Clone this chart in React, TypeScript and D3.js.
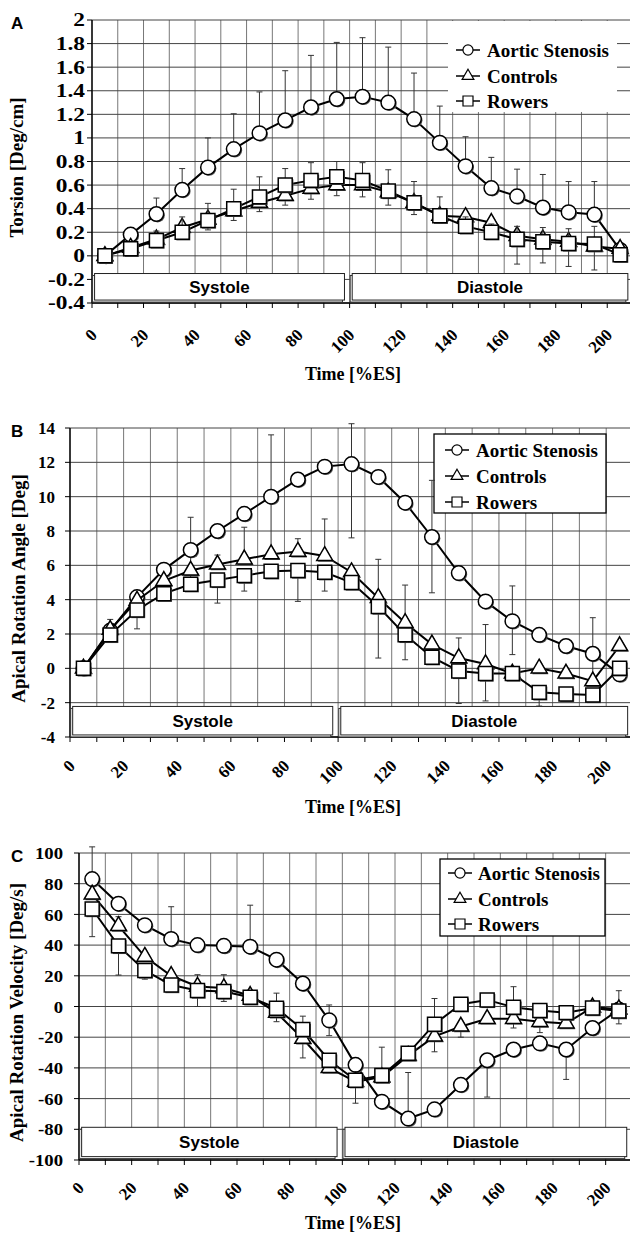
import React from "react";
import * as d3 from "d3";

// sample times (% of end-systole)
const timePoints = [5, 15, 25, 35, 45, 55, 65, 75, 85, 95, 105, 115, 125, 135, 145, 155, 165, 175, 185, 195, 205];
const groupNames = ["Aortic Stenosis", "Controls", "Rowers"];
const xTickValues = [0, 20, 40, 60, 80, 100, 120, 140, 160, 180, 200];
const phaseLabels = ["Systole", "Diastole"];
const phaseStart = [1, 101];
const phaseEnd = [98, 208];

// Panel A - torsion
const torsionTicks = [-0.4, -0.2, 0, 0.2, 0.4, 0.6, 0.8, 1, 1.2, 1.4, 1.6, 1.8, 2];
const torsionAS = [0, 0.18, 0.355, 0.56, 0.75, 0.905, 1.04, 1.15, 1.26, 1.33, 1.35, 1.3, 1.16, 0.96, 0.76, 0.575, 0.505, 0.41, 0.37, 0.35, 0.05];
const torsionASUp = [0, 0.06, 0.135, 0.18, 0.25, 0.3, 0.35, 0.42, 0.44, 0.48, 0.5, 0.47, 0.39, 0.31, 0.25, 0.26, 0.23, 0.28, 0.26, 0.28, 0];
const torsionControls = [0, 0.07, 0.14, 0.24, 0.31, 0.38, 0.45, 0.51, 0.57, 0.6, 0.6, 0.54, 0.45, 0.34, 0.33, 0.28, 0.17, 0.14, 0.12, 0.08, 0.06];
const torsionControlsDown = [0, 0, 0.02, 0.04, 0.09, 0.08, 0.075, 0.08, 0.09, 0.09, 0.1, 0.11, 0.1, 0.06, 0.06, 0.05, 0.24, 0.2, 0.21, 0.2, 0];
const torsionRowers = [0, 0.06, 0.13, 0.2, 0.3, 0.4, 0.5, 0.6, 0.64, 0.67, 0.64, 0.55, 0.45, 0.34, 0.25, 0.2, 0.14, 0.12, 0.105, 0.1, 0.01];
const torsionRowersUp = [0, 0, 0.08, 0.13, 0.145, 0.165, 0.17, 0.14, 0.15, 0.13, 0.15, 0.18, 0.18, 0.16, 0.08, 0.07, 0.11, 0.12, 0.125, 0.15, 0];

// Panel B - apical rotation angle
const angleTicks = [-4, -2, 0, 2, 4, 6, 8, 10, 12, 14];
const angleAS = [0, 2.2, 4.15, 5.75, 6.9, 8.0, 9.0, 10.0, 11.0, 11.75, 11.9, 11.15, 9.65, 7.65, 5.55, 3.9, 2.75, 1.95, 1.3, 0.85, -0.35];
const angleASUp = [0, 0, 0, 0, 1.9, 0, 0, 3.6, 0, 0, 2.35, 0, 0, 3.3, 0, 0, 2.05, 0, 0, 2.1, 0];
const angleASDown = [0, 0, 0, 0, 1.9, 0, 0, 3.6, 0, 0, 4.3, 0, 0, 3.25, 0, 0, 1.95, 0, 0, 1.6, 0];
const angleControls = [0, 2.25, 3.95, 5.1, 5.7, 6.05, 6.35, 6.65, 6.8, 6.55, 5.6, 4.1, 2.65, 1.4, 0.6, 0.25, -0.3, 0.0, -0.3, -0.75, 1.3];
const angleControlsUp = [0, 0.6, 0, 0, 0, 0.55, 1.87, 0, 0.75, 2.15, 0, 2.25, 2.2, 0, 1.17, 2.3, 0, 0, 0, 0, 0];
const angleRowers = [0, 1.95, 3.4, 4.35, 4.9, 5.15, 5.4, 5.65, 5.7, 5.6, 5.0, 3.6, 1.95, 0.65, -0.15, -0.3, -0.3, -1.4, -1.5, -1.55, 0.0];
const angleRowersDown = [0, 0, 1.1, 0, 0, 1.35, 0.9, 0, 1.8, 1.1, 0, 3.0, 1.45, 0, 1.9, 1.6, 0, 0.8, 0.3, 0.4, 0];

// Panel C - apical rotation velocity
const velocityTicks = [-100, -80, -60, -40, -20, 0, 20, 40, 60, 80, 100];
const velocityAS = [83, 67, 53, 44, 40, 39.5, 39, 30.5, 15, -9, -38, -62, -73, -67, -51, -35, -28, -24, -28, -14, -2];
const velocityASUp = [21, 0, 0, 21, 0, 0, 27, 0, 0, 10, 0, 0, 30, 0, 0, 0, 0, 0, 0, 0, 0];
const velocityASDown = [0, 0, 0, 0, 0, 0, 0, 0, 0, 10, 0, 0, 0, 0, 0, 24, 0, 0, 19.5, 0, 0];
const velocityControls = [73, 52.5, 32.5, 20, 13, 12, 7, -4, -21, -40, -49, -46, -32, -19.5, -13, -8, -8, -10, -11, -0.5, -1.7];
const velocityControlsUp = [0, 6, 0, 0, 7.7, 8.7, 0, 0, 0, 0, 0, 0, 0, 0, 0, 0, 0, 0, 0, 0, 12];
const velocityControlsDown = [0, 0, 0, 0, 0, 0, 0, 5.9, 12.5, 0, 14, 0, 0, 10, 7, 0, 6, 7, 0, 0, 9.6];
const velocityRowers = [63.5, 39.5, 23.5, 14, 10.4, 9.8, 6, -1.1, -15, -35, -48, -45, -30.5, -11.5, 1.5, 4.3, -0.5, -2.6, -4, -1, -3];
const velocityRowersUp = [0, 0, 0, 0, 0, 0, 0, 9.8, 8.7, 0, 0, 18.5, 0, 16.7, 0, 0, 13.4, 0, 0, 0, 0];
const velocityRowersDown = [18, 19, 5.7, 0, 10.4, 6.5, 0, 0, 0, 0, 0, 0, 0, 0, 0, 0, 0, 0, 0, 0, 0];

const SERIF = "'Liberation Serif', 'Times New Roman', serif";
const SANS = "'Liberation Sans', Arial, sans-serif";

type Series = { values: number[]; up?: number[]; down?: number[] };

const symbols = [d3.symbolCircle, d3.symbolTriangle, d3.symbolSquare];
const markerSizes = [165, 110, 195];
const legendSizes = [80, 60, 100];

const Panel = ({ letter, title, series, ticks, box, band, tickScale, tickSize, labelGap, xLabelDy, titleX, timeY, legend }: any) => {
  const xScale = d3.scaleLinear().domain([0, 210]).range([box.left, box.right]);
  const yScale = d3.scaleLinear().domain([ticks[0], ticks[ticks.length - 1]]).range([box.bottom, box.top]);
  const grid = d3.range(0, 211, 10);
  const lineGen = d3.line<number>().x((d, i) => xScale(timePoints[i])).y((d) => yScale(d));

  return (
    <g>
      {/* grid */}
      {grid.map((g) => (
        <line key={"vg" + g} x1={xScale(g)} x2={xScale(g)} y1={box.top} y2={box.bottom} stroke="#777" strokeWidth={1} />
      ))}
      {ticks.map((t: number) => (
        <line key={"hg" + t} x1={box.left} x2={box.right} y1={yScale(t)} y2={yScale(t)} stroke="#444" strokeWidth={1} />
      ))}
      {/* axes */}
      <line x1={box.left} x2={box.left} y1={box.top} y2={box.bottom} stroke="#000" strokeWidth={1.4} />
      <line x1={box.left} x2={box.right} y1={box.bottom} y2={box.bottom} stroke="#000" strokeWidth={1.4} />
      {grid.map((g) => (
        <line key={"xt" + g} x1={xScale(g)} x2={xScale(g)} y1={box.bottom} y2={box.bottom + 5} stroke="#000" strokeWidth={1} />
      ))}
      {ticks.map((t: number) => (
        <line key={"yt" + t} x1={box.left - 5} x2={box.left} y1={yScale(t)} y2={yScale(t)} stroke="#000" strokeWidth={1} />
      ))}
      {ticks.map((t: number) => (
        <text
          key={"yl" + t}
          transform={`translate(${box.left - labelGap},${yScale(t)}) scale(${tickScale},1)`}
          textAnchor="end"
          dy="0.36em"
          fontFamily={SERIF}
          fontWeight="bold"
          fontSize={tickSize}
        >
          {String(t)}
        </text>
      ))}
      {xTickValues.map((t) => (
        <text
          key={"xl" + t}
          transform={`translate(${xScale(t) + 6},${box.bottom + xLabelDy}) rotate(-45)`}
          textAnchor="end"
          fontFamily={SERIF}
          fontWeight="bold"
          fontSize={17}
        >
          {t}
        </text>
      ))}
      {/* phase boxes */}
      {phaseLabels.map((p, i) => {
        const x0 = xScale(phaseStart[i]);
        const x1 = xScale(phaseEnd[i]);
        const y0 = yScale(band[0]);
        const y1 = yScale(band[1]);
        return (
          <g key={p}>
            <rect x={x0 - 2} y={y0 + 2} width={x1 - x0} height={y1 - y0} fill="#fff" stroke="#333" strokeWidth={1} />
            <rect x={x0} y={y0} width={x1 - x0} height={y1 - y0} fill="#fff" stroke="#222" strokeWidth={1} />
            <text x={(x0 + x1) / 2} y={(y0 + y1) / 2} dy="0.36em" textAnchor="middle" fontFamily={SANS} fontWeight="bold" fontSize={17}>
              {p}
            </text>
          </g>
        );
      })}
      {/* legend */}
      <rect
        x={legend.box[0]}
        y={legend.box[1]}
        width={legend.box[2] - legend.box[0]}
        height={legend.box[3] - legend.box[1]}
        fill="#fff"
        stroke={legend.border ? "#000" : "none"}
        strokeWidth={1.3}
      />
      {groupNames.map((name, i) => (
        <g key={name}>
          <line x1={legend.mx - 12} x2={legend.mx + 12} y1={legend.rows[i]} y2={legend.rows[i]} stroke="#000" strokeWidth={1.5} />
          <path
            d={d3.symbol(symbols[i], legendSizes[i])() as string}
            transform={`translate(${legend.mx},${legend.rows[i]})`}
            fill="#fff"
            stroke="#000"
            strokeWidth={1.2}
          />
          <text x={legend.tx} y={legend.rows[i]} dy="0.36em" fontFamily={SERIF} fontWeight="bold" fontSize={19}>
            {name}
          </text>
        </g>
      ))}
      {/* series */}
      {series.map((s: Series, si: number) => (
        <g key={si}>
          {s.values.map((v, i) => {
            const up = s.up ? s.up[i] : 0;
            const down = s.down ? s.down[i] : 0;
            if (!up && !down) return null;
            const x = xScale(timePoints[i]);
            const yt = yScale(v + up);
            const yb = yScale(v - down);
            return (
              <g key={i} stroke="#333" strokeWidth={1}>
                <line x1={x} x2={x} y1={yt} y2={yb} />
                {up ? <line x1={x - 3} x2={x + 3} y1={yt} y2={yt} /> : null}
                {down ? <line x1={x - 3} x2={x + 3} y1={yb} y2={yb} /> : null}
              </g>
            );
          })}
          <path d={lineGen(s.values) as string} fill="none" stroke="#000" strokeWidth={2} />
          {s.values.map((v, i) => (
            <g key={"m" + i} transform={`translate(${xScale(timePoints[i])},${yScale(v)})`}>
              <path d={d3.symbol(symbols[si], markerSizes[si])() as string} transform="translate(1.2,1.2)" fill="#555" />
              <path d={d3.symbol(symbols[si], markerSizes[si])() as string} fill="#fff" stroke="#000" strokeWidth={1.5} />
            </g>
          ))}
        </g>
      ))}
      {/* titles */}
      <text x={11} y={box.top + 9} fontFamily={SANS} fontWeight="bold" fontSize={17}>
        {letter}
      </text>
      <text
        transform={`translate(${titleX},${(box.top + box.bottom) / 2 + 6}) rotate(-90)`}
        textAnchor="middle"
        fontFamily={SERIF}
        fontWeight="bold"
        fontSize={19}
      >
        {title}
      </text>
      <text x={353} y={timeY} textAnchor="middle" fontFamily={SERIF} fontWeight="bold" fontSize={18}>
        Time [%ES]
      </text>
    </g>
  );
};

export default function App() {
  return (
    <svg width={630} height={1234} style={{ position: "absolute", left: 0, top: 0, background: "#fff" }}>
      <Panel
        letter="A"
        title="Torsion [Deg/cm]"
        series={[
          { values: torsionAS, up: torsionASUp },
          { values: torsionControls, down: torsionControlsDown },
          { values: torsionRowers, up: torsionRowersUp },
        ]}
        ticks={torsionTicks}
        box={{ left: 92, right: 633, top: 20, bottom: 303 }}
        band={[-0.15, -0.375]}
        tickScale={1.3}
        tickSize={18}
        labelGap={7}
        xLabelDy={33}
        titleX={23}
        timeY={380}
        legend={{ box: [448, 21, 617, 112], border: false, mx: 468, tx: 487, rows: [50, 76, 101] }}
      />
      <Panel
        letter="B"
        title="Apical Rotation Angle [Deg]"
        series={[
          { values: angleAS, up: angleASUp, down: angleASDown },
          { values: angleControls, up: angleControlsUp },
          { values: angleRowers, down: angleRowersDown },
        ]}
        ticks={angleTicks}
        box={{ left: 70, right: 633, top: 428, bottom: 737 }}
        band={[-2.22, -3.88]}
        tickScale={1}
        tickSize={17}
        labelGap={15}
        xLabelDy={30}
        titleX={25}
        timeY={813}
        legend={{ box: [434, 434, 606, 513], border: true, mx: 457, tx: 476, rows: [450, 476, 502] }}
      />
      <Panel
        letter="C"
        title="Apical Rotation Velocity [Deg/s]"
        series={[
          { values: velocityAS, up: velocityASUp, down: velocityASDown },
          { values: velocityControls, up: velocityControlsUp, down: velocityControlsDown },
          { values: velocityRowers, up: velocityRowersUp, down: velocityRowersDown },
        ]}
        ticks={velocityTicks}
        box={{ left: 79, right: 632, top: 853, bottom: 1160 }}
        band={[-78.7, -97.8]}
        tickScale={1.1}
        tickSize={17}
        labelGap={16}
        xLabelDy={29}
        titleX={23}
        timeY={1229}
        legend={{ box: [440, 859, 605, 936], border: true, mx: 460, tx: 478, rows: [873, 899, 924] }}
      />
    </svg>
  );
}
